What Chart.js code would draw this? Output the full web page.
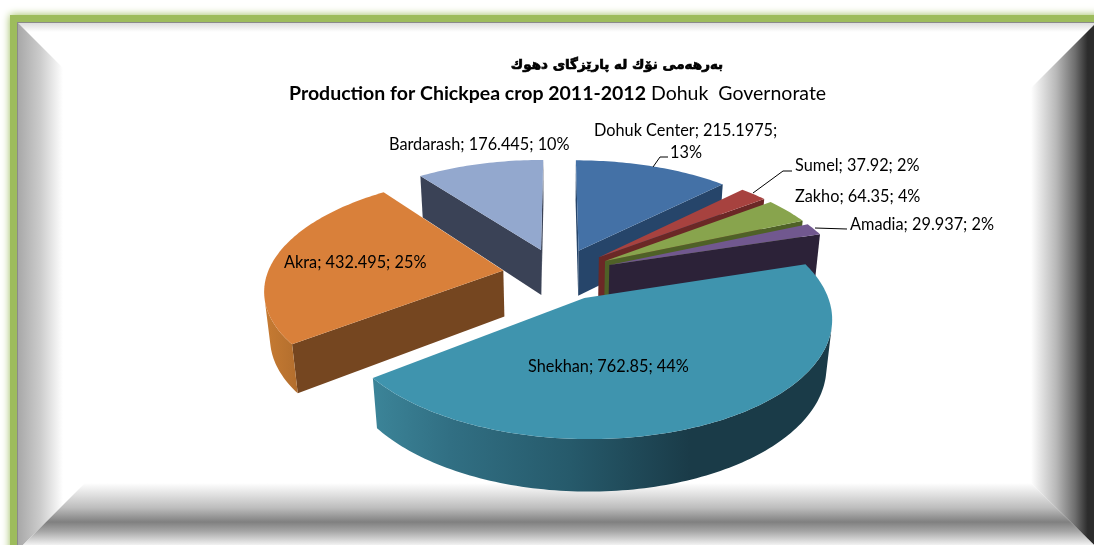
<!DOCTYPE html>
<html>
<head>
<meta charset="utf-8">
<style>
  html, body { margin: 0; padding: 0; background: #fff; overflow: hidden; }
  canvas { display: block; }
</style>
<script src="https://cdn.jsdelivr.net/npm/chart.js@4/dist/chart.umd.js"></script>
</head>
<body>
<canvas id="chart" width="1094" height="545"></canvas>
<script>
// data
const categories = ['Dohuk Center', 'Sumel', 'Zakho', 'Amadia', 'Shekhan', 'Akra', 'Bardarash'];
const values = [215.1975, 37.92, 64.35, 29.937, 762.85, 432.495, 176.445];
const titleKurdish = 'بەرهەمی نۆك له پارێزگای دهوك';
const titleBold = 'Production for Chickpea crop 2011-2012';
const titleRegular = 'Dohuk  Governorate';

const topColors = ['#4471a6', '#a7423f', '#88a44d', '#71588f', '#3f94ae', '#d9803a', '#93a8ce'];
const cutColors = ['#26456a', '#6b2826', '#4f6127', '#2c2238', '#1b3c4a', '#754620', '#3a4256'];
// outer wall gradients, [x, colour]
const wallStops = [
    null, null, null, null,
    [[377, '#3b8397'], [450, '#316f83'], [570, '#265a6b'], [690, '#1a3b48'], [840, '#1a3b48']],
    [[262, '#c87c33'], [300, '#b16d2d']],
    null
];

// camera for the tilted pie
const cam = { cx: 558, cy: 274, f: 236, g: 111, k: 0.155, kz: 0.02, h: 47, explode: 0.235 };

// where the labels sit, left edge and middle of the text
const labelSpots = [
    { lines: [[594, 131], [670, 153]] },
    { lines: [[795, 166]] },
    { lines: [[795, 197]] },
    { lines: [[850, 225]] },
    { lines: [[528, 367]] },
    { lines: [[284, 263]] },
    { lines: [[389, 145]] }
];
const leaders = [
    [[653, 167], [660, 157], [668, 157]],
    [[753, 193], [783, 171], [792, 171]],
    [[815, 228], [847, 229]]
];

function project(x, y, z) {
    const w = 1 - cam.k * y + cam.kz * z;
    return [cam.cx + cam.f * x / w, cam.cy + (cam.g * y + cam.h * z) / w];
}

function fillPoly(ctx, pts, fill) {
    ctx.beginPath();
    pts.forEach((p, i) => i ? ctx.lineTo(p[0], p[1]) : ctx.moveTo(p[0], p[1]));
    ctx.closePath();
    ctx.fillStyle = fill;
    ctx.fill();
}

// negative area on screen means the wall faces the viewer
function faces(a, b, c, d) {
    const pts = [a, b, c, d];
    let s = 0;
    pts.forEach((p, i) => {
        const q = pts[(i + 1) % 4];
        s += p[0] * q[1] - q[0] * p[1];
    });
    return s < 0;
}

function drawSlice(ctx, arc, i) {
    const start = arc.startAngle, end = arc.endAngle;
    const mid = (start + end) / 2;
    const ax = cam.explode * Math.cos(mid), ay = cam.explode * Math.sin(mid);
    const steps = Math.max(4, Math.ceil((end - start) / 0.02));
    const top = [], bottom = [];
    for (let n = 0; n <= steps; n++) {
        const a = start + (end - start) * n / steps;
        top.push(project(ax + Math.cos(a), ay + Math.sin(a), 0));
        bottom.push(project(ax + Math.cos(a), ay + Math.sin(a), 1));
    }
    const apexTop = project(ax, ay, 0), apexBottom = project(ax, ay, 1);

    // cut faces
    if (faces(apexTop, top[0], bottom[0], apexBottom)) {
        fillPoly(ctx, [apexTop, top[0], bottom[0], apexBottom], cutColors[i]);
    }
    if (faces(top[steps], apexTop, apexBottom, bottom[steps])) {
        fillPoly(ctx, [top[steps], apexTop, apexBottom, bottom[steps]], cutColors[i]);
    }

    // outer wall, only the part turned to the viewer
    const upper = [], lower = [];
    for (let n = 0; n < steps; n++) {
        if (faces(top[n], top[n + 1], bottom[n + 1], bottom[n])) {
            if (!upper.length) { upper.push(top[n]); lower.push(bottom[n]); }
            upper.push(top[n + 1]);
            lower.push(bottom[n + 1]);
        }
    }
    if (upper.length) {
        let fill = cutColors[i];
        if (wallStops[i]) {
            const stops = wallStops[i];
            const x0 = stops[0][0], x1 = stops[stops.length - 1][0];
            fill = ctx.createLinearGradient(x0, 0, x1, 0);
            stops.forEach(s => fill.addColorStop((s[0] - x0) / (x1 - x0), s[1]));
        }
        fillPoly(ctx, upper.concat(lower.reverse()), fill);
    }

    fillPoly(ctx, [apexTop].concat(top), topColors[i]);
}

function vGradient(ctx, y0, y1, stops) {
    const g = ctx.createLinearGradient(0, y0, 0, y1);
    stops.forEach(s => g.addColorStop(s[0], s[1]));
    return g;
}
function hGradient(ctx, x0, x1, stops) {
    const g = ctx.createLinearGradient(x0, 0, x1, 0);
    stops.forEach(s => g.addColorStop(s[0], s[1]));
    return g;
}

const framePlugin = {
    id: 'frame',
    beforeDraw(chart) {
        const ctx = chart.ctx;
        ctx.save();
        ctx.fillStyle = '#fff';
        ctx.fillRect(0, 0, 1094, 545);

        // green band with a soft edge
        ctx.shadowColor = '#9bbb59';
        ctx.shadowBlur = 8;
        ctx.fillStyle = '#9dbc5c';
        ctx.fillRect(10, 15, 1200, 600);
        ctx.shadowBlur = 0;

        ctx.fillStyle = '#8a8a8a';
        ctx.fillRect(17, 22, 1077, 523);
        ctx.fillStyle = '#fff';
        ctx.fillRect(18, 23, 1076, 522);

        // bevels
        ctx.fillStyle = vGradient(ctx, 23, 32, [[0, '#dcdcdc'], [1, '#ffffff']]);
        ctx.fillRect(18, 23, 1076, 9);
        fillPoly(ctx, [[18, 23], [63, 68], [63, 505], [23, 545], [18, 545]],
            hGradient(ctx, 18, 63, [[0, '#a8a8a8'], [0.5, '#cccccc'], [1, '#ffffff']]));
        fillPoly(ctx, [[1094, 25], [1031, 88], [1031, 483], [1094, 545]],
            hGradient(ctx, 1031, 1094, [[0, '#ffffff'], [0.4, '#b8b8b8'], [0.7, '#6e6e6e'], [0.9, '#2c2c2c'], [1, '#2c2c2c']]));
        fillPoly(ctx, [[23, 545], [85, 483], [1031, 483], [1094, 545]],
            vGradient(ctx, 483, 545, [[0, '#ffffff'], [0.4, '#bdbdbd'], [0.63, '#808080'], [0.78, '#a6a6a6'], [1, '#f2f2f2']]));
        ctx.restore();
    }
};

const pie3dPlugin = {
    id: 'pie3d',
    // the library works out the angles, this only draws them tilted
    beforeDatasetDraw() {
        return false;
    },
    afterDatasetsDraw(chart) {
        const ctx = chart.ctx;
        const arcs = chart.getDatasetMeta(0).data;
        const order = arcs.map((a, i) => i).sort((p, q) =>
            Math.sin((arcs[p].startAngle + arcs[p].endAngle) / 2) -
            Math.sin((arcs[q].startAngle + arcs[q].endAngle) / 2));
        ctx.save();
        order.forEach(i => drawSlice(ctx, arcs[i], i));
        ctx.restore();
    }
};

const textPlugin = {
    id: 'texts',
    afterDraw(chart) {
        const ctx = chart.ctx;
        const total = values.reduce((s, v) => s + v, 0);
        ctx.save();
        ctx.fillStyle = '#000';
        ctx.textBaseline = 'middle';

        ctx.font = '16.3px Lato';
        categories.forEach((name, i) => {
            const pct = Math.round(values[i] / total * 100) + '%';
            const spots = labelSpots[i].lines;
            const head = name + '; ' + values[i] + ';';
            if (spots.length > 1) {
                ctx.fillText(head, spots[0][0], spots[0][1]);
                ctx.fillText(pct, spots[1][0], spots[1][1]);
            } else {
                ctx.fillText(head + ' ' + pct, spots[0][0], spots[0][1]);
            }
        });

        ctx.strokeStyle = '#000';
        ctx.lineWidth = 1;
        leaders.forEach(line => {
            ctx.beginPath();
            line.forEach((p, i) => i ? ctx.lineTo(p[0], p[1]) : ctx.moveTo(p[0], p[1]));
            ctx.stroke();
        });

        ctx.font = 'bold 19.5px Lato';
        ctx.fillText(titleBold, 289, 94);
        const boldWidth = ctx.measureText(titleBold).width;
        ctx.font = '19.5px Lato';
        ctx.fillText(titleRegular, 289 + boldWidth + 5, 94);

        ctx.font = 'bold 13.5px "DejaVu Sans"';
        ctx.direction = 'rtl';
        ctx.textAlign = 'center';
        ctx.lineWidth = 0.7;
        ctx.strokeText(titleKurdish, 617, 65);
        ctx.fillText(titleKurdish, 617, 65);
        ctx.restore();
    }
};

new Chart(document.getElementById('chart'), {
    type: 'pie',
    data: {
        labels: categories,
        datasets: [{ data: values, backgroundColor: topColors }]
    },
    options: {
        responsive: false,
        animation: false,
        plugins: { legend: { display: false }, tooltip: { enabled: false } }
    },
    plugins: [framePlugin, pie3dPlugin, textPlugin]
});
</script>
</body>
</html>
